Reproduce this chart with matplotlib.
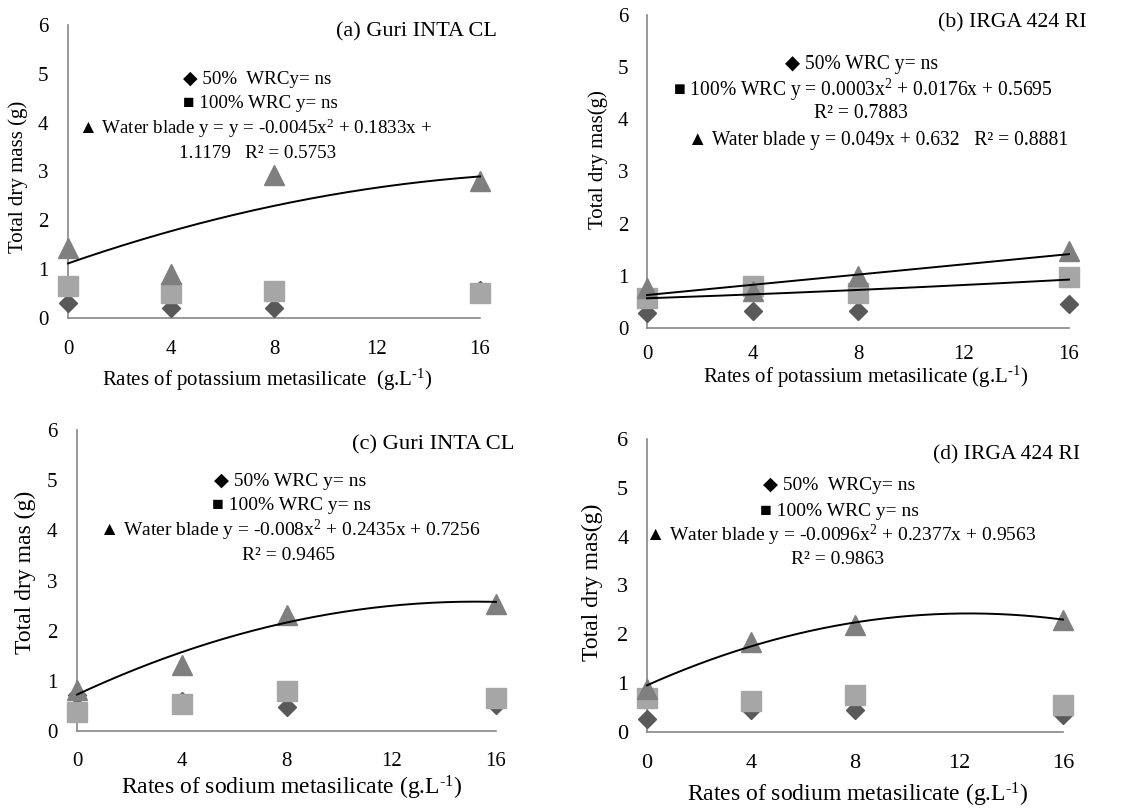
import matplotlib
matplotlib.use("Agg")
import matplotlib.pyplot as plt
import numpy as np

plt.rcParams['font.family'] = ['Liberation Serif', 'DejaVu Sans']
plt.rcParams['mathtext.fontset'] = 'custom'
plt.rcParams['mathtext.rm'] = 'Liberation Serif'
plt.rcParams['mathtext.it'] = 'Liberation Serif:italic'
plt.rcParams['mathtext.bf'] = 'Liberation Serif:bold'

W, H = 1143, 809

rates = [0, 4, 8, 16]

# (a) Guri INTA CL, potassium metasilicate
a_50 = [0.31, 0.20, 0.20, 0.58]
a_100 = [0.66, 0.51, 0.55, 0.52]
a_wb = [1.43, 0.90, 2.93, 2.80]
# (b) IRGA 424 RI, potassium metasilicate
b_50 = [0.29, 0.32, 0.32, 0.46]
b_100 = [0.57, 0.80, 0.67, 0.97]
b_wb = [0.77, 0.70, 1.00, 1.47]
# (c) Guri INTA CL, sodium metasilicate
c_50 = [0.72, 0.60, 0.48, 0.52]
c_100 = [0.37, 0.54, 0.80, 0.66]
c_wb = [0.82, 1.32, 2.31, 2.53]
# (d) IRGA 424 RI, sodium metasilicate
d_50 = [0.27, 0.45, 0.45, 0.35]
d_100 = [0.70, 0.63, 0.75, 0.55]
d_wb = [0.89, 1.85, 2.19, 2.29]

# fitted trend-line coefficients (c2, c1, c0)
a_fit = [(-0.0045, 0.1833, 1.1179)]
b_fit = [(0.0003, 0.0176, 0.5695), (0.0, 0.049, 0.632)]
c_fit = [(-0.008, 0.2435, 0.7256)]
d_fit = [(-0.0096, 0.2377, 0.9563)]

xticks = [0, 4, 8, 12, 16]
yticks = [0, 1, 2, 3, 4, 5, 6]

titles = ["(a) Guri INTA CL", "(b) IRGA 424 RI", "(c) Guri INTA CL", "(d) IRGA 424 RI"]
ylabels = ["Total dry mass (g)", "Total dry mas(g)", "Total dry mas (g)", "Total dry mas(g)"]
xlabels = ["Rates of potassium metasilicate  (g.L$^{\\text{-}1}$)",
           "Rates of potassium metasilicate (g.L$^{\\text{-}1}$)",
           "Rates of sodium metasilicate (g.L$^{\\text{-}1}$)",
           "Rates of sodium metasilicate (g.L$^{\\text{-}1}$)"]
annots = [
    ["\u25c6 50%  WRCy= ns", "\u25a0 100% WRC y= ns",
     "\u25b2 Water blade y = y = -0.0045x$^{2}$ + 0.1833x +", "1.1179   R\u00b2 = 0.5753"],
    ["\u25c6 50% WRC y= ns", "\u25a0 100% WRC y = 0.0003x$^{2}$ + 0.0176x + 0.5695",
     "R\u00b2 = 0.7883", "\u25b2 Water blade y = 0.049x + 0.632   R\u00b2 = 0.8881"],
    ["\u25c6 50% WRC y= ns", "\u25a0 100% WRC y= ns",
     "\u25b2 Water blade y = -0.008x$^{2}$ + 0.2435x + 0.7256", "R\u00b2 = 0.9465"],
    ["\u25c6 50%  WRCy= ns", "\u25a0 100% WRC y= ns",
     "\u25b2 Water blade y = -0.0096x$^{2}$ + 0.2377x + 0.9563", "R\u00b2 = 0.9863"],
]

# layout in pixels: (left, right, top, bottom) of axes
boxes = [(68, 480, 25, 318), (647, 1069, 15, 328), (77, 496, 430, 731), (647, 1063, 439, 732)]
title_pos = [(497, 32), (1087, 23), (515, 445), (1080, 455)]
annot_pos = [
    [(257, 80), (260, 104), (255, 128), (258, 153)],
    [(862, 65), (863, 90), (861, 113), (878, 140)],
    [(290, 481), (291, 505), (290, 530), (288, 555)],
    [(839, 486), (840, 511), (841, 535), (838, 560)],
]
ylab_pos = [(18, 177), (598, 160), (25, 572), (592, 582)]
xlab_pos = [(267, 380), (866, 377), (292, 788), (858, 795)]
xpad = [16, 12, 15, 16]
ypad = [14, 13.5, 14, 13.5]
label_fs = [15, 15, 17, 17]
tick_fs = [15, 15, 15, 16]
annot_fs = [13.7, 14.1, 14, 14]
title_fs = [16, 15.7, 16.2, 15.6]

data = [(a_50, a_100, a_wb, a_fit), (b_50, b_100, b_wb, b_fit),
        (c_50, c_100, c_wb, c_fit), (d_50, d_100, d_wb, d_fit)]

fig = plt.figure(figsize=(W / 100, H / 100), dpi=100)

def fx(x):
    return x / W

def fy(y):
    return 1 - y / H

for i in range(4):
    l, r, t, b = boxes[i]
    ax = fig.add_axes([fx(l), fy(b), (r - l) / W, (b - t) / H])
    s50, s100, swb, fits = data[i]
    ax.plot(rates, s50, linestyle='none', marker='D', ms=9, color='#595959', clip_on=False, zorder=3)
    ax.plot(rates, s100, linestyle='none', marker='s', ms=14, color='#a6a6a6', clip_on=False, zorder=4)
    ax.plot(rates, swb, linestyle='none', marker='^', ms=15, color='#7f7f7f', clip_on=False, zorder=5)
    xs = np.linspace(0, 16, 200)
    for c2, c1, c0 in fits:
        ax.plot(xs, c2 * xs ** 2 + c1 * xs + c0, color='black', lw=1.4, zorder=6, clip_on=False)
    ax.set_xlim(0, 16)
    ax.set_ylim(0, 6)
    ax.set_xticks(xticks)
    ax.set_yticks(yticks)
    for sp in ['top', 'right']:
        ax.spines[sp].set_visible(False)
    for sp in ['left', 'bottom']:
        ax.spines[sp].set_color('#868686')
        ax.spines[sp].set_linewidth(1.2)
    ax.tick_params(axis='x', length=0, pad=xpad[i], labelsize=tick_fs[i])
    ax.tick_params(axis='y', length=0, pad=ypad[i], labelsize=tick_fs[i])
    ax.patch.set_alpha(0)

    fig.text(fx(title_pos[i][0]), fy(title_pos[i][1]), titles[i], ha='right', va='center',
             fontsize=title_fs[i])
    for txt, (px, py) in zip(annots[i], annot_pos[i]):
        fig.text(fx(px), fy(py), txt, ha='center', va='center', fontsize=annot_fs[i])
    fig.text(fx(ylab_pos[i][0]), fy(ylab_pos[i][1]), ylabels[i], rotation=90,
             ha='center', va='center', fontsize=label_fs[i])
    fig.text(fx(xlab_pos[i][0]), fy(xlab_pos[i][1]), xlabels[i], ha='center', va='center',
             fontsize=label_fs[i])

fig.savefig("out.png", dpi=100)
